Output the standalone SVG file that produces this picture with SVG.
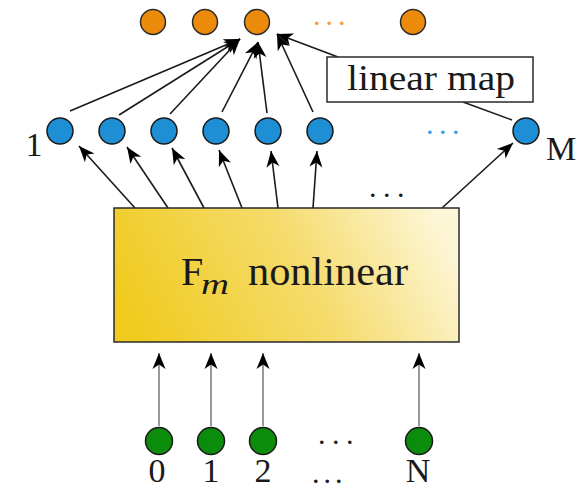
<svg xmlns="http://www.w3.org/2000/svg" width="584" height="490" viewBox="0 0 584 490">
<style>
.orange{fill:#ec8a0c;stroke:#2a2a2a;stroke-width:1.5}
.blue{fill:#1e8fd5;stroke:#1a1a1a;stroke-width:1.5}
.green{fill:#0b8c0b;stroke:#1a1a1a;stroke-width:1.5}
.lbl{font-family:"Liberation Serif","DejaVu Serif",serif;font-size:34px;fill:#1a1a1a}
.big{font-family:"Liberation Serif","DejaVu Serif",serif;font-size:40px;fill:#1a1a1a}
.sub{font-family:"Liberation Serif","DejaVu Serif",serif;font-size:30px;font-style:italic;fill:#1a1a1a}
.mid{font-family:"Liberation Serif","DejaVu Serif",serif;font-size:36px;fill:#1a1a1a}
.dots{font-family:"Liberation Serif","DejaVu Serif",serif;font-size:22px;font-weight:bold}
.edge{stroke:#1a1a1a;stroke-width:1.6;fill:none;marker-end:url(#ah)}
.gedge{stroke:#808080;stroke-width:1.6;fill:none;marker-end:url(#ah)}
</style>
<defs>
<marker id="ah" viewBox="-17 -8 18 16" refX="0" refY="0" markerWidth="18" markerHeight="16" markerUnits="userSpaceOnUse" orient="auto">
<path d="M0,0 L-16,-6.5 L-11.5,0 L-16,6.5 Z" fill="#000"/>
</marker>
<linearGradient id="yg" x1="0" y1="0.6" x2="1" y2="0.4">
<stop offset="0" stop-color="#f0cb1e"/>
<stop offset="0.55" stop-color="#f5db6c"/>
<stop offset="1" stop-color="#fdf6d6"/>
</linearGradient>
</defs>

<g id="connectors">
<line class="edge" x1="70" y1="111" x2="240" y2="39"/>
<line class="edge" x1="119" y1="115" x2="240" y2="39"/>
<line class="edge" x1="170" y1="114" x2="240" y2="39"/>
<line class="edge" x1="222" y1="112" x2="258" y2="42"/>
<line class="edge" x1="267" y1="113" x2="258" y2="42"/>
<line class="edge" x1="313" y1="112" x2="277" y2="34"/>
<line class="edge" x1="338" y1="57" x2="277" y2="34"/>
<line x1="463" y1="102" x2="512" y2="120" stroke="#1a1a1a" stroke-width="1.5"/>
<line class="edge" x1="135" y1="208" x2="79" y2="146"/>
<line class="edge" x1="168" y1="208" x2="127" y2="147"/>
<line class="edge" x1="204" y1="208" x2="172" y2="148"/>
<line class="edge" x1="242" y1="208" x2="219" y2="150"/>
<line class="edge" x1="278" y1="208" x2="271" y2="151"/>
<line class="edge" x1="313" y1="208" x2="317" y2="151"/>
<line class="edge" x1="442" y1="208" x2="513" y2="143"/>
<line class="gedge" x1="159" y1="426" x2="159" y2="353"/>
<line class="gedge" x1="211" y1="426" x2="211" y2="353"/>
<line class="gedge" x1="263" y1="426" x2="263" y2="353"/>
<line class="gedge" x1="419" y1="426" x2="419" y2="353"/>
</g>

<g id="outputs">
<circle class="orange" cx="153" cy="22" r="12.5"/>
<circle class="orange" cx="205" cy="22" r="12.5"/>
<circle class="orange" cx="257" cy="22" r="12.5"/>
<circle class="orange" cx="413" cy="22" r="12.5"/>
<text class="dots" x="314" y="25" fill="#f0a040" letter-spacing="7">...</text>
</g>

<g id="linear-map">
<rect x="327" y="57" width="206" height="45" fill="#fff" stroke="#2a2a2a" stroke-width="1.5"/>
<text class="mid" x="347" y="90" textLength="168" lengthAdjust="spacingAndGlyphs">linear map</text>
</g>

<g id="hidden">
<circle class="blue" cx="60" cy="131" r="13"/>
<circle class="blue" cx="112" cy="131" r="13"/>
<circle class="blue" cx="164" cy="131" r="13"/>
<circle class="blue" cx="216" cy="131" r="13"/>
<circle class="blue" cx="268" cy="131" r="13"/>
<circle class="blue" cx="320" cy="131" r="13"/>
<circle class="blue" cx="526" cy="131" r="13"/>
<text class="dots" x="427" y="134" fill="#3aa0e0" letter-spacing="7.5">...</text>
<text class="lbl" x="34" y="156" text-anchor="middle">1</text>
<text class="lbl" x="546" y="160">M</text>
<text class="dots" x="370" y="197" fill="#1a1a1a" letter-spacing="8.5">...</text>
</g>

<g id="nonlinear-box">
<rect x="114" y="208" width="345" height="134" fill="url(#yg)" stroke="#2a2a2a" stroke-width="1.5"/>
<text class="big" x="181" y="285">F</text>
<text class="sub" x="201" y="294" textLength="28" lengthAdjust="spacingAndGlyphs">m</text>
<text class="big" x="248" y="285" textLength="160" lengthAdjust="spacingAndGlyphs">nonlinear</text>
</g>

<g id="inputs">
<circle class="green" cx="159" cy="441" r="13.5"/>
<circle class="green" cx="211" cy="441" r="13.5"/>
<circle class="green" cx="263" cy="441" r="13.5"/>
<circle class="green" cx="419" cy="441" r="13.5"/>
<text class="dots" x="319" y="444" fill="#1a1a1a" letter-spacing="8.5">...</text>
<text class="lbl" x="157" y="482" text-anchor="middle">0</text>
<text class="lbl" x="211" y="482" text-anchor="middle">1</text>
<text class="lbl" x="263" y="482" text-anchor="middle">2</text>
<text class="dots" x="313" y="483" fill="#1a1a1a" letter-spacing="6">...</text>
<text class="lbl" x="418" y="482" text-anchor="middle">N</text>
</g>
</svg>
